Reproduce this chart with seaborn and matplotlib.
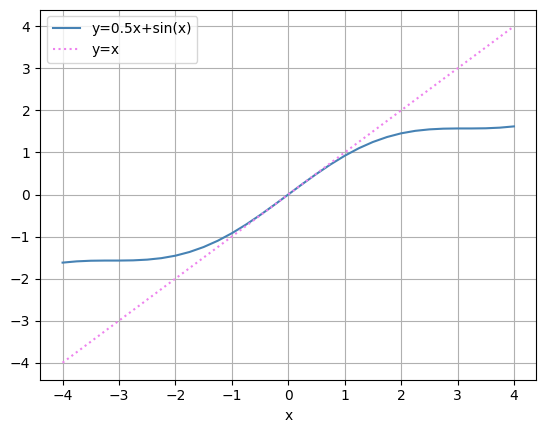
import matplotlib
matplotlib.use("Agg")
import matplotlib.pyplot as plt
import seaborn as sns
import pandas as pd

x_vals = [-4.0, -3.75, -3.5, -3.25, -3.0, -2.75, -2.5, -2.25, -2.0, -1.75, -1.5, -1.25, -1.0,
          -0.75, -0.5, -0.25, 0.0, 0.25, 0.5, 0.75, 1.0, 1.25, 1.5, 1.75, 2.0, 2.25, 2.5,
          2.75, 3.0, 3.25, 3.5, 3.75, 4.0]
curve_vals = [-1.62, -1.59, -1.575, -1.571, -1.571, -1.566, -1.549, -1.514, -1.455, -1.367,
              -1.249, -1.10, -0.921, -0.716, -0.49, -0.249, 0.0, 0.249, 0.49, 0.716, 0.921,
              1.10, 1.249, 1.367, 1.455, 1.514, 1.549, 1.566, 1.571, 1.571, 1.575, 1.59, 1.62]
ident_x = [-4.0, 4.0]
ident_y = [-4.0, 4.0]

fig, ax = plt.subplots(figsize=(5.46, 4.32), dpi=100)
sns.lineplot(x=x_vals, y=curve_vals, ax=ax, color="steelblue", label="y=0.5x+sin(x)")
sns.lineplot(x=ident_x, y=ident_y, ax=ax, color="violet", linestyle=":", label="y=x")
ax.set_xlabel("x")
ax.grid(True)
ax.legend(loc="upper left")
fig.subplots_adjust(left=0.0733, right=0.9826, top=0.978, bottom=0.1215)
fig.savefig("out.png", dpi=100)
